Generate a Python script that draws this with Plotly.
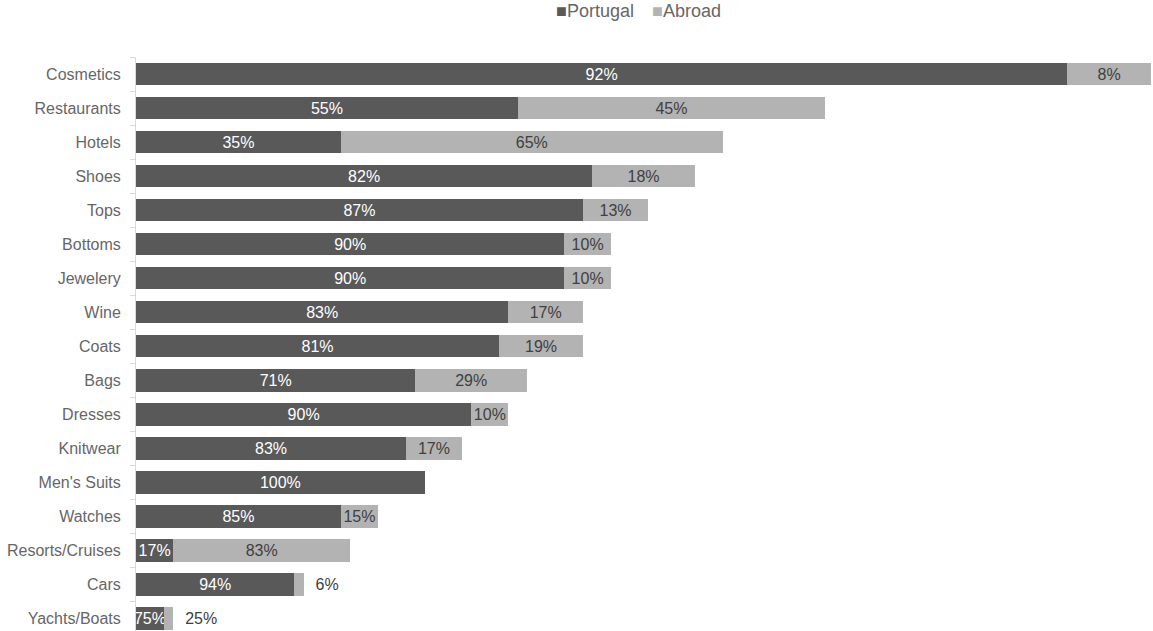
import plotly.graph_objects as go

# Respondents by place of purchase, per product category
categories = [
    "Cosmetics", "Restaurants", "Hotels", "Shoes", "Tops", "Bottoms",
    "Jewelery", "Wine", "Coats", "Bags", "Dresses", "Knitwear",
    "Men's Suits", "Watches", "Resorts/Cruises", "Cars", "Yachts/Boats",
]
portugal = [100, 41, 22, 49, 48, 46, 46, 40, 39, 30, 36, 29, 31, 22, 4, 17, 3]
abroad = [9, 33, 41, 11, 7, 5, 5, 8, 9, 12, 4, 6, 0, 4, 19, 1, 1]
outside_labels = ["Cars", "Yachts/Boats"]

DARK = "#595959"
LIGHT = "#b3b3b3"
TICK_GREY = "#666666"
FONT = "Liberation Sans, Arial, sans-serif"

totals = [p + a for p, a in zip(portugal, abroad)]
pt_text = [f"{round(100 * p / t)}%" for p, t in zip(portugal, totals)]
ab_text = []
ab_pos = []
for c, a, t in zip(categories, abroad, totals):
    if a == 0:
        ab_text.append("")
        ab_pos.append("inside")
    elif c in outside_labels:
        ab_text.append("\u00a0\u00a0" + f"{round(100 * a / t)}%")
        ab_pos.append("outside")
    else:
        ab_text.append(f"{round(100 * a / t)}%")
        ab_pos.append("inside")

fig = go.Figure()
fig.add_trace(go.Bar(
    y=categories, x=portugal, orientation="h", name="Portugal",
    marker=dict(color=DARK, line=dict(width=0)),
    text=pt_text, textposition="inside", insidetextanchor="middle",
    textangle=0, constraintext="none",
    insidetextfont=dict(color="white", size=16, family=FONT),
))
fig.add_trace(go.Bar(
    y=categories, x=abroad, orientation="h", name="Abroad",
    marker=dict(color=LIGHT, line=dict(width=0)),
    text=ab_text, textposition=ab_pos, insidetextanchor="middle",
    textangle=0, constraintext="none", cliponaxis=False,
    insidetextfont=dict(color="#404040", size=16, family=FONT),
    outsidetextfont=dict(color="#404040", size=16, family=FONT),
))

n = len(categories)
fig.update_layout(
    width=1153, height=631,
    margin=dict(l=136, r=2, t=57, b=0),
    barmode="stack", bargap=0.34,
    plot_bgcolor="white", paper_bgcolor="white",
    showlegend=False,
    font=dict(family=FONT, color=DARK),
    xaxis=dict(visible=False, range=[0, max(totals)], fixedrange=True),
    yaxis=dict(
        type="category", categoryorder="array", categoryarray=categories,
        range=[n - 0.632, -0.5],
        showline=True, linecolor="#d9d9d9", linewidth=1,
        ticks="outside", tickson="boundaries", ticklen=5, tickcolor="#d9d9d9",
        tickfont=dict(size=16, color=TICK_GREY, family=FONT),
        ticklabelstandoff=11, showgrid=False, zeroline=False,
    ),
    annotations=[
        dict(xref="paper", yref="paper", x=(554 - 136) / 1015, y=1.08,
             xanchor="left", yanchor="middle", showarrow=False,
             text=f"<span style='color:{DARK}'>■</span>Portugal",
             font=dict(size=18, color=TICK_GREY, family=FONT)),
        dict(xref="paper", yref="paper", x=(650 - 136) / 1015, y=1.08,
             xanchor="left", yanchor="middle", showarrow=False,
             text=f"<span style='color:{LIGHT}'>■</span>Abroad",
             font=dict(size=18, color=TICK_GREY, family=FONT)),
    ],
)

fig.write_html("out.html")
